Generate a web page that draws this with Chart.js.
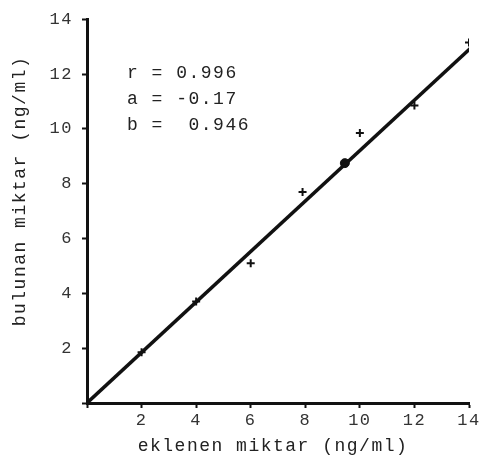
<!DOCTYPE html>
<html>
<head>
<meta charset="utf-8">
<script src="https://cdn.jsdelivr.net/npm/chart.js@4"></script>
<style>
  html, body { margin: 0; padding: 0; background: #fff; }
  #wrap { width: 484px; height: 459px; position: relative; }
</style>
</head>
<body>
<div id="wrap"><canvas id="chart"></canvas></div>
<script>
// measured points (added vs found)
const addedValues = [2, 4, 6, 7.9, 10, 12, 14];
const foundValues = [1.85, 3.7, 5.1, 7.7, 9.85, 10.85, 13.15];

// filled dot on the fit line
const dotX = [9.45];
const dotY = [8.75];

// regression line ends
const lineX = [0, 14.1];
const lineY = [0, 12.98];

const tickValues = [2, 4, 6, 8, 10, 12, 14];
const statLines = ['r = 0.996', 'a = -0.17', 'b =  0.946'];
const xTitle = 'eklenen miktar (ng/ml)';
const yTitle = 'bulunan miktar (ng/ml)';

const FONT = "'Liberation Mono', 'DejaVu Sans Mono', monospace";
const INK = '#111';
const TEXT = '#222';

function toPoints(xs, ys) {
  return xs.map((x, i) => ({ x: x, y: ys[i] }));
}

// typewriter look: wide letter spacing on all canvas text
const spacing = {
  id: 'spacing',
  beforeUpdate(chart) { chart.ctx.letterSpacing = '1.5px'; },
  beforeDraw(chart) { chart.ctx.letterSpacing = '1.5px'; },
};

const extraText = {
  id: 'extraText',
  afterDraw(chart) {
    const ctx = chart.ctx;
    ctx.save();
    ctx.letterSpacing = '1.5px';
    ctx.font = '18px ' + FONT;
    ctx.fillStyle = TEXT;
    ctx.textBaseline = 'middle';
    ctx.textAlign = 'left';
    statLines.forEach((line, i) => {
      ctx.fillText(line, 127, 73 + i * 26);
    });

    ctx.textAlign = 'center';
    ctx.fillText(xTitle, 273, 446);

    ctx.translate(20, 191);
    ctx.rotate(-Math.PI / 2);
    ctx.fillText(yTitle, 0, 0);
    ctx.restore();
  },
};

const axisStyle = {
  type: 'linear',
  min: 0,
  max: 14,
  border: { display: true, color: INK, width: 3 },
  grid: {
    display: true,
    drawOnChartArea: false,
    drawTicks: true,
    tickLength: 5,
    tickWidth: 2,
    color: INK,
  },
  ticks: {
    stepSize: 2,
    color: '#333',
    font: { family: FONT, size: 17 },
    callback: (v) => (tickValues.includes(v) ? v : ''),
  },
};

new Chart(document.getElementById('chart').getContext('2d'), {
  type: 'scatter',
  data: {
    datasets: [
      {
        type: 'line',
        data: toPoints(lineX, lineY),
        borderColor: INK,
        borderWidth: 3.5,
        pointRadius: 0,
        fill: false,
      },
      {
        data: toPoints(addedValues, foundValues),
        pointStyle: 'cross',
        pointRadius: 4,
        borderWidth: 2,
        borderColor: INK,
      },
      {
        data: toPoints(dotX, dotY),
        pointStyle: 'circle',
        pointRadius: 4.5,
        backgroundColor: INK,
        borderColor: INK,
      },
    ],
  },
  options: {
    responsive: true,
    maintainAspectRatio: false,
    animation: false,
    layout: { padding: { top: 17, right: 15, left: 0, bottom: 0 } },
    plugins: { legend: { display: false }, tooltip: { enabled: false } },
    scales: {
      x: {
        ...axisStyle,
        ticks: { ...axisStyle.ticks, padding: 2 },
        afterFit: (scale) => { scale.height = 56; },
      },
      y: {
        ...axisStyle,
        ticks: { ...axisStyle.ticks, padding: 9 },
        afterFit: (scale) => { scale.width = 87; },
      },
    },
  },
  plugins: [spacing, extraText],
});
</script>
</body>
</html>
